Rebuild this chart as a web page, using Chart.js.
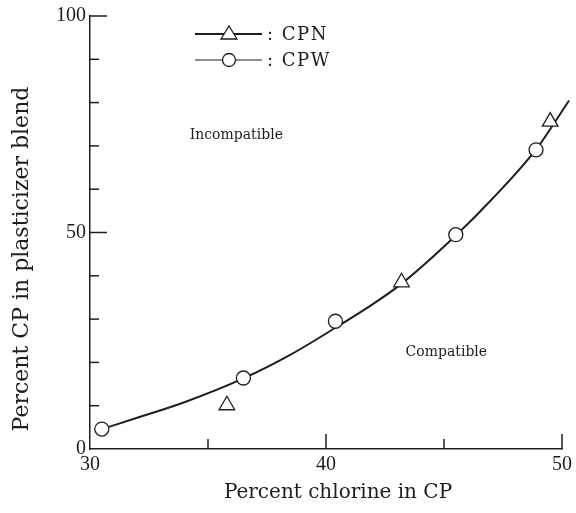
<!DOCTYPE html>
<html>
<head>
<meta charset="utf-8">
<script src="https://cdn.jsdelivr.net/npm/chart.js@4.4.1/dist/chart.umd.min.js"></script>
<style>
html,body{margin:0;padding:0;background:#fff;}
#wrap{width:576px;height:513px;}
</style>
</head>
<body>
<div id="wrap"><canvas id="c" width="576" height="513"></canvas></div>
<script>
// ---- data ----
const seriesNames = ['CPN', 'CPW'];
const cpnX = [35.8, 43.2, 49.5];
const cpnY = [10.1, 38.5, 75.6];
const cpwX = [30.5, 36.5, 40.4, 45.5, 48.9];
const cpwY = [4.6, 16.4, 29.5, 49.5, 69.1];
const curveX = [30.5, 32, 34, 36.5, 38.5, 40.4, 42, 43.3, 45.5, 47, 48.9, 50.3];
const curveY = [4.6, 7.2, 10.8, 16.3, 21.8, 28.0, 33.5, 38.6, 49.3, 57.5, 69.2, 80.5];
const xTickLabels = [30, 40, 50];
const yTickLabels = [0, 50, 100];
const xInnerTicks = [35, 40, 45, 50];
const xMajorTicks = [40, 50];
const yInnerTicks = [10, 20, 30, 40, 50, 60, 70, 80, 90, 100];
const yMajorTicks = [50, 100];
const regionLabels = ['Incompatible', 'Compatible'];
const regionX = [36.2, 45.1];
const regionY = [72.4, 22.4];
const xTitle = 'Percent chlorine in CP';
const yTitle = 'Percent CP in plasticizer blend';

const FONT = '"DejaVu Serif", "Liberation Serif", serif';
const NUMFONT = '"Liberation Serif", "DejaVu Serif", serif';
const INK = '#1e1e1e';

const pts = (xs, ys) => xs.map((x, i) => ({x: x, y: ys[i]}));

const innerTicks = {
  id: 'innerTicks',
  afterDraw(chart) {
    const ctx = chart.ctx, xs = chart.scales.x, ys = chart.scales.y;
    const ca = chart.chartArea;
    ctx.save();
    ctx.strokeStyle = INK;
    ctx.lineWidth = 1.5;
    yInnerTicks.forEach(v => {
      const py = ys.getPixelForValue(v);
      const len = yMajorTicks.includes(v) ? 17 : 9;
      ctx.beginPath(); ctx.moveTo(ca.left, py); ctx.lineTo(ca.left + len, py); ctx.stroke();
    });
    xInnerTicks.forEach(v => {
      const px = xs.getPixelForValue(v);
      const len = xMajorTicks.includes(v) ? 15 : 10;
      ctx.beginPath(); ctx.moveTo(px, ca.bottom); ctx.lineTo(px, ca.bottom - len); ctx.stroke();
    });
    ctx.fillStyle = INK;
    ctx.textAlign = 'center'; ctx.textBaseline = 'middle';
    // region labels
    ctx.font = '14px ' + FONT;
    regionLabels.forEach((t, i) => {
      ctx.fillText(t, xs.getPixelForValue(regionX[i]), ys.getPixelForValue(regionY[i]));
    });
    // axis titles
    ctx.font = '20px ' + FONT;
    ctx.fillText(xTitle, 338, 493);
    ctx.save();
    ctx.translate(22, 259);
    ctx.rotate(-Math.PI / 2);
    ctx.font = '22px ' + FONT;
    ctx.fillText(yTitle, 0, 0);
    ctx.restore();
    // legend
    const lx0 = 195, lx1 = 262, mx = 229;
    const rows = [34, 60];
    ctx.textAlign = 'left';
    ctx.font = '18px ' + FONT;
    if ('letterSpacing' in ctx) ctx.letterSpacing = '1.5px';
    rows.forEach((ly, i) => {
      ctx.strokeStyle = INK;
      ctx.lineWidth = i === 0 ? 2 : 1.2;
      ctx.beginPath(); ctx.moveTo(lx0, ly); ctx.lineTo(lx1, ly); ctx.stroke();
      ctx.lineWidth = 1.3;
      ctx.fillStyle = '#fff';
      ctx.beginPath();
      if (i === 0) {
        ctx.moveTo(mx, ly - 8); ctx.lineTo(mx + 8, ly + 5); ctx.lineTo(mx - 8, ly + 5); ctx.closePath();
      } else {
        ctx.arc(mx, ly, 6.5, 0, Math.PI * 2);
      }
      ctx.fill(); ctx.stroke();
      ctx.fillStyle = INK;
      ctx.fillText(': ' + seriesNames[i], 267, ly + 1);
    });
    ctx.restore();
  }
};

new Chart(document.getElementById('c'), {
  data: {
    datasets: [
      {
        type: 'scatter', label: seriesNames[0], data: pts(cpnX, cpnY), order: 0,
        pointStyle: 'triangle', pointRadius: 9, pointBorderWidth: 1.3,
        pointBackgroundColor: '#fff', pointBorderColor: INK, showLine: false
      },
      {
        type: 'scatter', label: seriesNames[1], data: pts(cpwX, cpwY), order: 0,
        pointStyle: 'circle', pointRadius: 7, pointBorderWidth: 1.3,
        pointBackgroundColor: '#fff', pointBorderColor: INK, showLine: false
      },
      {
        type: 'line', label: 'fit', data: pts(curveX, curveY), order: 1,
        borderColor: INK, borderWidth: 2, pointRadius: 0, fill: false,
        cubicInterpolationMode: 'monotone', clip: false
      }
    ]
  },
  options: {
    responsive: false,
    animation: false,
    events: [],
    layout: {padding: {left: 0, top: 15, right: 13, bottom: 0}},
    plugins: {legend: {display: false}, tooltip: {enabled: false}},
    scales: {
      x: {
        type: 'linear', min: 30, max: 50,
        afterFit(s) { s.height = 64; },
        afterBuildTicks(s) { s.ticks = xTickLabels.map(v => ({value: v})); },
        grid: {display: false, tickLength: 0, drawTicks: false},
        border: {display: true, color: INK, width: 1.5},
        ticks: {color: INK, font: {family: NUMFONT, size: 20}, padding: 4, maxRotation: 0}
      },
      y: {
        type: 'linear', min: 0, max: 100,
        afterFit(s) { s.width = 90; },
        afterBuildTicks(s) { s.ticks = yTickLabels.map(v => ({value: v})); },
        grid: {display: false, tickLength: 0, drawTicks: false},
        border: {display: true, color: INK, width: 1.5},
        ticks: {color: INK, font: {family: NUMFONT, size: 20}, padding: 4}
      }
    }
  },
  plugins: [innerTicks]
});
</script>
</body>
</html>
